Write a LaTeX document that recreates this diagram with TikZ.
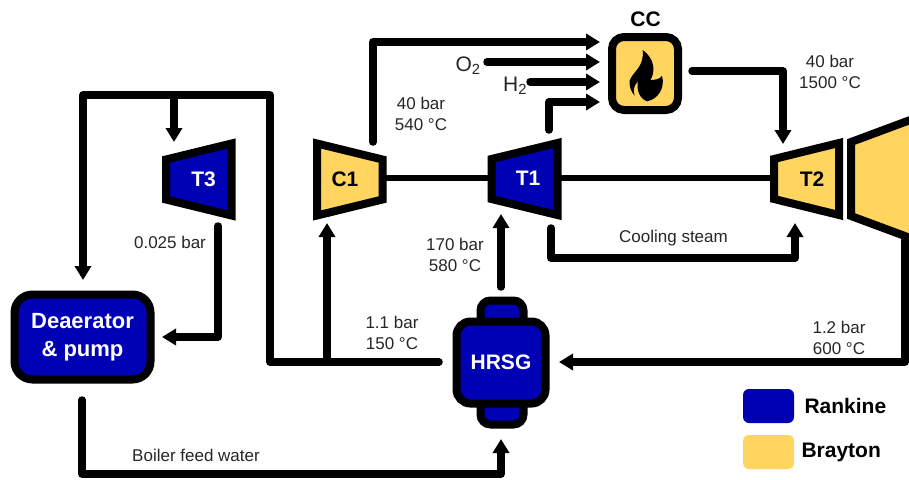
\documentclass[tikz,border=0pt]{standalone}
\usepackage{fontspec}
\setmainfont{Liberation Sans}
\usepackage{xcolor}
\usetikzlibrary{arrows.meta}

\definecolor{rankine}{HTML}{0000B4}
\definecolor{brayton}{HTML}{FFD45F}

\tikzset{
	flow/.style={line width=7.5, line cap=round, line join=round, -{Triangle[length=14,width=16]}},
	shaft/.style={line width=6},
	machine/.style={draw, line width=8, line join=miter},
	unit/.style={draw, line width=8, rounded corners=12, inner sep=0, font=\bfseries\fontsize{21}{28}\selectfont},
	info/.style={align=center, text=black!85, font=\fontsize{17}{21.5}\selectfont},
	gas/.style={text=black!85, font=\fontsize{21}{25}\selectfont},
	tag/.style={font=\bfseries\fontsize{21}{25}\selectfont},
}

\begin{document}
\begin{tikzpicture}[x=1pt, y=-1pt]

\useasboundingbox (0,0) rectangle (909,479);
\clip (0,0) rectangle (909,479);

% shafts first
\coordinate (shaftA) at (385,178);
\coordinate (shaftB) at (490,178);
\coordinate (shaftC) at (558,178);
\coordinate (shaftD) at (774,178);
\draw[shaft] (shaftA)--(shaftB);
\draw[shaft] (shaftC)--(shaftD);

% T3
\def \b {166}
\def \c {179.5}
\draw[machine, fill=rankine] (\b,\c-20)--(\b+65.5,\c-36)--(\b+65.5,\c+36)--(\b,\c+20)--cycle;
\node[tag, text=white] (t3) at (\b+37.5,\c) {T3};

% C1
\def \b {317}
\def \c {179.5}
\draw[machine, fill=brayton] (\b,\c-36)--(\b+65.5,\c-20)--(\b+65.5,\c+20)--(\b,\c+36)--cycle;
\node[tag] (c1) at (\b+28,\c) {C1};

% T1
\def \b {491.5}
\def \c {179}
\draw[machine, fill=rankine] (\b,\c-20)--(\b+66,\c-36)--(\b+66,\c+36)--(\b,\c+20)--cycle;
\node[tag, text=white] (t1) at (\b+36.5,\c-1) {T1};

% T2
\def \b {774}
\def \c {179}
\draw[machine, fill=brayton] (\b,\c-20)--(\b+65,\c-36)--(\b+65,\c+36)--(\b,\c+20)--cycle;
\node[tag] (t2) at (\b+38,\c) {T2};

% exhaust stage
\def \b {851}
\draw[machine, fill=brayton] (\b,\c-37)--(\b+70,\c-63)--(\b+70,\c+63)--(\b,\c+37)--cycle;

% CC
\node[unit, fill=brayton, minimum width=66, minimum height=73] (cc) at (645,73.5) {};
\node[tag, anchor=base] (cclabel) at (645.5,26) {CC};
\begin{scope}[shift={(622,44)}, x=0.3333pt, y=-0.3333pt]
\fill (62,18) .. controls (100,45) and (100,85) .. (85,108)
	.. controls (100,108) and (115,105) .. (120,95)
	.. controls (130,130) and (110,165) .. (75,172)
	.. controls (55,165) and (42,140) .. (48,112)
	.. controls (35,125) and (33,140) .. (38,155)
	.. controls (28,145) and (20,125) .. (23,110)
	.. controls (30,85) and (68,70) .. (62,18) -- cycle;
\end{scope}

% HRSG
\node[unit, fill=rankine, rounded corners=10, minimum width=43, minimum height=124] (hrsgtab) at (502,362.5) {};
\node[unit, fill=rankine, rounded corners=14, text=white, minimum width=89, minimum height=82] (hrsg) at (501,362.5) {HRSG};

% Deaerator
\node[unit, fill=rankine, rounded corners=18, text=white, align=center, minimum width=136, minimum height=85, font=\bfseries\fontsize{22}{28}\selectfont] (dea) at (82.5,337) {Deaerator\\\& pump};

% free ends of the pipes
\coordinate (c1out) at (373,142);
\coordinate (ccA) at (600,42);
\coordinate (oxy) at (487,62);
\coordinate (ccB) at (600,62);
\coordinate (hyd) at (530,82);
\coordinate (ccC) at (600,82);
\coordinate (t1out) at (549,130);
\coordinate (ccD) at (600,102);
\coordinate (ccout) at (692,71);
\coordinate (t2in) at (783,144);
\coordinate (t1cool) at (551,228);
\coordinate (t2cool) at (795,223);
\coordinate (t1in) at (501,214);
\coordinate (hrsgtop) at (501,287);
\coordinate (hrsgleft) at (439,362);
\coordinate (junc) at (327,362);
\coordinate (c1in) at (327,223);
\coordinate (top) at (174,95);
\coordinate (t3in) at (174,142);
\coordinate (deatop) at (83,280);
\coordinate (t3out) at (218,226);
\coordinate (deain) at (162,337);
\coordinate (t2out) at (905,240);
\coordinate (hrsgin) at (559,362);
\coordinate (deaout) at (82,400);
\coordinate (hrsgbot) at (501,439);

\draw[flow] (c1out)--(373,42)--(ccA);
\draw[flow] (oxy)--(ccB);
\draw[flow] (hyd)--(ccC);
\draw[flow] (t1out)--(549,102)--(ccD);
\draw[flow] (ccout)--(783,71)--(t2in);
\draw[flow] (t1cool)--(551,258)--(795,258)--(t2cool);
\draw[flow] (hrsgtop)--(t1in);
\draw[flow] (hrsgleft)--(270,362)--(270,95)--(83,95)--(deatop);
\draw[flow] (junc)--(c1in);
\draw[flow] (top)--(t3in);
\draw[flow] (t3out)--(218,337)--(deain);
\draw[flow] (t2out)--(905,362)--(hrsgin);
\draw[flow] (deaout)--(82,474)--(501,474)--(hrsgbot);

% labels
\node[info] (l1) at (421,114) {40 bar\\540 °C};
\node[info] (l2) at (830,72) {40 bar\\1500 °C};
\node[info] (l3) at (455,255) {170 bar\\580 °C};
\node[info] (l4) at (392,333) {1.1 bar\\150 °C};
\node[info] (l5) at (839,338) {1.2 bar\\600 °C};
\node[info] (l6) at (170,242) {0.025 bar};
\node[info] (l7) at (673.5,238) {Cooling steam};
\node[info] (l8) at (196,455) {Boiler feed water};
\node[gas] (o2) at (468,66) {O\textsubscript{2}};
\node[gas] (h2) at (515,86) {H\textsubscript{2}};

% legend
\node[fill=rankine, rounded corners=6, minimum width=51, minimum height=34] (legA) at (768.5,406) {};
\node[fill=brayton, rounded corners=6, minimum width=51, minimum height=34] (legB) at (768.5,452) {};
\node[tag, anchor=west] (rank) at (801,406) {Rankine};
\node[tag, anchor=west] (bray) at (798,452) {Brayton};

\end{tikzpicture}
\end{document}
